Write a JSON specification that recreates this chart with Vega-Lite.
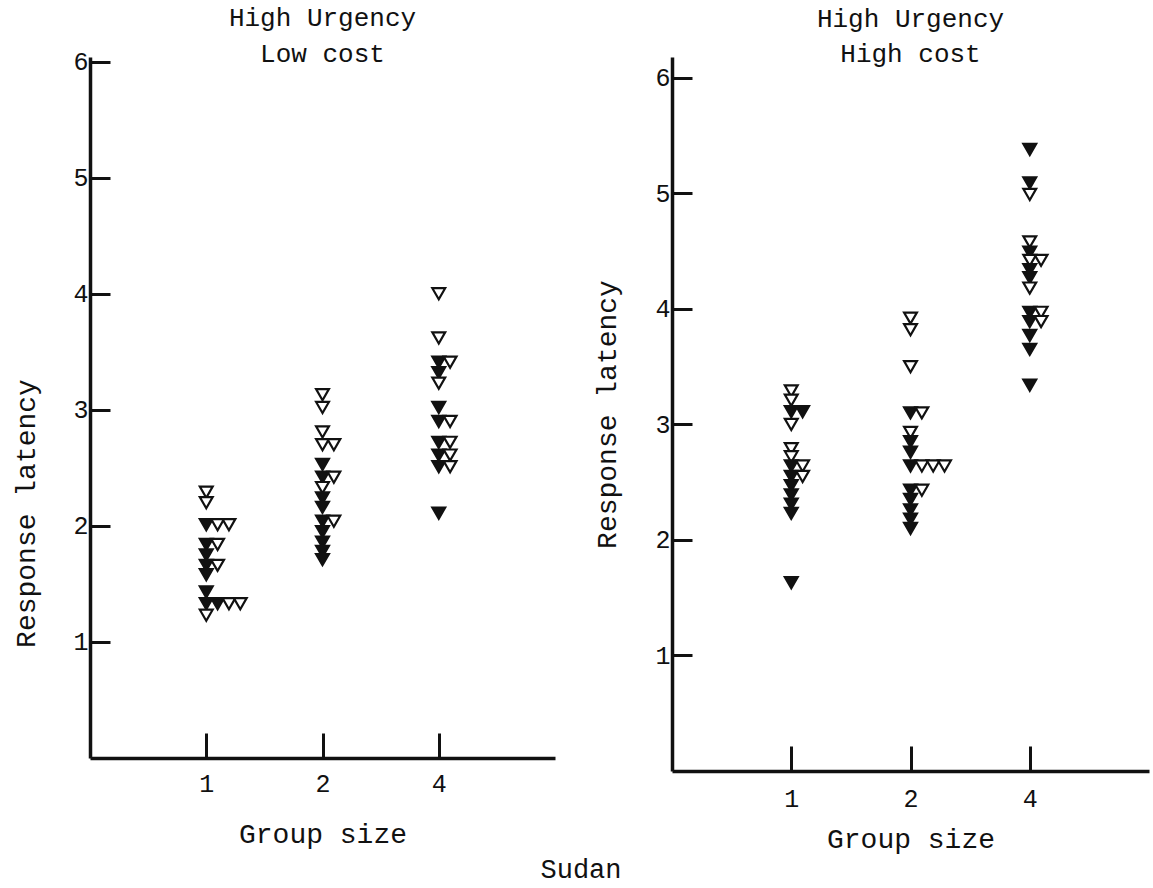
{
  "$schema": "https://vega.github.io/schema/vega-lite/v6.json",
  "padding": {"left": 12, "top": 4, "right": 2, "bottom": 2},
  "background": "white",
  "config": {
    "font": "Liberation Mono",
    "view": {"stroke": null},
    "axis": {
      "domainColor": "#111",
      "domainWidth": 3.5,
      "tickColor": "#111",
      "tickWidth": 3,
      "grid": false,
      "labelFont": "Liberation Mono",
      "labelFontSize": 25,
      "labelColor": "#111",
      "titleFont": "Liberation Mono",
      "titleFontSize": 28,
      "titleFontWeight": "normal",
      "titleColor": "#111"
    },
    "title": {"font": "Liberation Mono", "fontSize": 26, "fontWeight": "normal", "color": "#111"}
  },
  "title": {"text": "Sudan", "orient": "bottom", "anchor": "middle", "fontSize": 27, "offset": 4},
  "data": {
    "values": [
      {"panel": "Low cost", "size": "1", "latency": 2.29, "set": "B"},
      {"panel": "Low cost", "size": "1", "latency": 2.20, "set": "B"},
      {"panel": "Low cost", "size": "1", "latency": 2.01, "set": "A"},
      {"panel": "Low cost", "size": "1", "latency": 2.01, "set": "B"},
      {"panel": "Low cost", "size": "1", "latency": 2.01, "set": "B"},
      {"panel": "Low cost", "size": "1", "latency": 1.84, "set": "A"},
      {"panel": "Low cost", "size": "1", "latency": 1.84, "set": "B"},
      {"panel": "Low cost", "size": "1", "latency": 1.75, "set": "A"},
      {"panel": "Low cost", "size": "1", "latency": 1.66, "set": "A"},
      {"panel": "Low cost", "size": "1", "latency": 1.66, "set": "B"},
      {"panel": "Low cost", "size": "1", "latency": 1.58, "set": "A"},
      {"panel": "Low cost", "size": "1", "latency": 1.43, "set": "A"},
      {"panel": "Low cost", "size": "1", "latency": 1.33, "set": "A"},
      {"panel": "Low cost", "size": "1", "latency": 1.33, "set": "A"},
      {"panel": "Low cost", "size": "1", "latency": 1.33, "set": "B"},
      {"panel": "Low cost", "size": "1", "latency": 1.33, "set": "B"},
      {"panel": "Low cost", "size": "1", "latency": 1.23, "set": "B"},

      {"panel": "Low cost", "size": "2", "latency": 3.13, "set": "B"},
      {"panel": "Low cost", "size": "2", "latency": 3.02, "set": "B"},
      {"panel": "Low cost", "size": "2", "latency": 2.81, "set": "B"},
      {"panel": "Low cost", "size": "2", "latency": 2.70, "set": "B"},
      {"panel": "Low cost", "size": "2", "latency": 2.70, "set": "B"},
      {"panel": "Low cost", "size": "2", "latency": 2.53, "set": "A"},
      {"panel": "Low cost", "size": "2", "latency": 2.42, "set": "A"},
      {"panel": "Low cost", "size": "2", "latency": 2.42, "set": "B"},
      {"panel": "Low cost", "size": "2", "latency": 2.33, "set": "B"},
      {"panel": "Low cost", "size": "2", "latency": 2.24, "set": "A"},
      {"panel": "Low cost", "size": "2", "latency": 2.16, "set": "A"},
      {"panel": "Low cost", "size": "2", "latency": 2.04, "set": "A"},
      {"panel": "Low cost", "size": "2", "latency": 2.04, "set": "B"},
      {"panel": "Low cost", "size": "2", "latency": 1.95, "set": "A"},
      {"panel": "Low cost", "size": "2", "latency": 1.86, "set": "A"},
      {"panel": "Low cost", "size": "2", "latency": 1.78, "set": "A"},
      {"panel": "Low cost", "size": "2", "latency": 1.71, "set": "A"},

      {"panel": "Low cost", "size": "4", "latency": 4.00, "set": "B"},
      {"panel": "Low cost", "size": "4", "latency": 3.62, "set": "B"},
      {"panel": "Low cost", "size": "4", "latency": 3.41, "set": "A"},
      {"panel": "Low cost", "size": "4", "latency": 3.41, "set": "B"},
      {"panel": "Low cost", "size": "4", "latency": 3.32, "set": "A"},
      {"panel": "Low cost", "size": "4", "latency": 3.23, "set": "B"},
      {"panel": "Low cost", "size": "4", "latency": 3.02, "set": "A"},
      {"panel": "Low cost", "size": "4", "latency": 2.90, "set": "A"},
      {"panel": "Low cost", "size": "4", "latency": 2.90, "set": "B"},
      {"panel": "Low cost", "size": "4", "latency": 2.72, "set": "A"},
      {"panel": "Low cost", "size": "4", "latency": 2.72, "set": "B"},
      {"panel": "Low cost", "size": "4", "latency": 2.61, "set": "A"},
      {"panel": "Low cost", "size": "4", "latency": 2.61, "set": "B"},
      {"panel": "Low cost", "size": "4", "latency": 2.51, "set": "A"},
      {"panel": "Low cost", "size": "4", "latency": 2.51, "set": "B"},
      {"panel": "Low cost", "size": "4", "latency": 2.11, "set": "A"},

      {"panel": "High cost", "size": "1", "latency": 3.29, "set": "B"},
      {"panel": "High cost", "size": "1", "latency": 3.21, "set": "B"},
      {"panel": "High cost", "size": "1", "latency": 3.11, "set": "A"},
      {"panel": "High cost", "size": "1", "latency": 3.11, "set": "A"},
      {"panel": "High cost", "size": "1", "latency": 3.00, "set": "B"},
      {"panel": "High cost", "size": "1", "latency": 2.79, "set": "B"},
      {"panel": "High cost", "size": "1", "latency": 2.72, "set": "B"},
      {"panel": "High cost", "size": "1", "latency": 2.64, "set": "A"},
      {"panel": "High cost", "size": "1", "latency": 2.64, "set": "B"},
      {"panel": "High cost", "size": "1", "latency": 2.55, "set": "A"},
      {"panel": "High cost", "size": "1", "latency": 2.55, "set": "B"},
      {"panel": "High cost", "size": "1", "latency": 2.47, "set": "A"},
      {"panel": "High cost", "size": "1", "latency": 2.39, "set": "A"},
      {"panel": "High cost", "size": "1", "latency": 2.31, "set": "A"},
      {"panel": "High cost", "size": "1", "latency": 2.23, "set": "A"},
      {"panel": "High cost", "size": "1", "latency": 1.63, "set": "A"},

      {"panel": "High cost", "size": "2", "latency": 3.92, "set": "B"},
      {"panel": "High cost", "size": "2", "latency": 3.82, "set": "B"},
      {"panel": "High cost", "size": "2", "latency": 3.50, "set": "B"},
      {"panel": "High cost", "size": "2", "latency": 3.10, "set": "A"},
      {"panel": "High cost", "size": "2", "latency": 3.10, "set": "B"},
      {"panel": "High cost", "size": "2", "latency": 2.93, "set": "B"},
      {"panel": "High cost", "size": "2", "latency": 2.85, "set": "A"},
      {"panel": "High cost", "size": "2", "latency": 2.76, "set": "A"},
      {"panel": "High cost", "size": "2", "latency": 2.64, "set": "A"},
      {"panel": "High cost", "size": "2", "latency": 2.64, "set": "B"},
      {"panel": "High cost", "size": "2", "latency": 2.64, "set": "B"},
      {"panel": "High cost", "size": "2", "latency": 2.64, "set": "B"},
      {"panel": "High cost", "size": "2", "latency": 2.43, "set": "A"},
      {"panel": "High cost", "size": "2", "latency": 2.43, "set": "B"},
      {"panel": "High cost", "size": "2", "latency": 2.35, "set": "A"},
      {"panel": "High cost", "size": "2", "latency": 2.26, "set": "A"},
      {"panel": "High cost", "size": "2", "latency": 2.18, "set": "A"},
      {"panel": "High cost", "size": "2", "latency": 2.10, "set": "A"},

      {"panel": "High cost", "size": "4", "latency": 5.38, "set": "A"},
      {"panel": "High cost", "size": "4", "latency": 5.09, "set": "A"},
      {"panel": "High cost", "size": "4", "latency": 4.99, "set": "B"},
      {"panel": "High cost", "size": "4", "latency": 4.58, "set": "B"},
      {"panel": "High cost", "size": "4", "latency": 4.49, "set": "A"},
      {"panel": "High cost", "size": "4", "latency": 4.42, "set": "B"},
      {"panel": "High cost", "size": "4", "latency": 4.42, "set": "B"},
      {"panel": "High cost", "size": "4", "latency": 4.34, "set": "A"},
      {"panel": "High cost", "size": "4", "latency": 4.27, "set": "A"},
      {"panel": "High cost", "size": "4", "latency": 4.18, "set": "B"},
      {"panel": "High cost", "size": "4", "latency": 3.97, "set": "A"},
      {"panel": "High cost", "size": "4", "latency": 3.97, "set": "B"},
      {"panel": "High cost", "size": "4", "latency": 3.89, "set": "A"},
      {"panel": "High cost", "size": "4", "latency": 3.89, "set": "B"},
      {"panel": "High cost", "size": "4", "latency": 3.77, "set": "A"},
      {"panel": "High cost", "size": "4", "latency": 3.65, "set": "A"},
      {"panel": "High cost", "size": "4", "latency": 3.34, "set": "A"}
    ]
  },
  "transform": [
    {
      "window": [{"op": "row_number", "as": "rank"}],
      "groupby": ["panel", "size", "latency"],
      "sort": [{"field": "set", "order": "ascending"}]
    }
  ],
  "spacing": 38,
  "hconcat": [
    {
      "width": 465,
      "height": 701,
      "title": {"text": ["High Urgency", "Low cost"], "anchor": "middle", "lineHeight": 36, "frame": "group", "offset": -17},
      "transform": [{"filter": "datum.panel === 'Low cost'"}],
      "mark": {"type": "point", "shape": "triangle-down", "filled": true, "size": 165, "stroke": "#111", "strokeWidth": 2.2, "opacity": 1},
      "encoding": {
        "x": {
          "field": "size", "type": "ordinal", "sort": ["1", "2", "4"],
          "scale": {"type": "point", "padding": 1},
          "axis": {"title": "Group size", "labelAngle": 0, "tickSize": -25, "labelPadding": 38, "titlePadding": 24}
        },
        "xOffset": {"field": "rank", "type": "quantitative", "scale": {"domain": [1, 4], "range": [0, 34]}},
        "y": {
          "field": "latency", "type": "quantitative",
          "scale": {"domain": [0, 6.04], "nice": false},
          "axis": {"title": "Response latency", "values": [1, 2, 3, 4, 5, 6], "tickSize": -20, "labelPadding": 22, "titleY": 456, "titlePadding": 32}
        },
        "fill": {"field": "set", "type": "nominal", "scale": {"domain": ["A", "B"], "range": ["#111", "#ffffff"]}, "legend": null}
      }
    },
    {
      "width": 477,
      "height": 714,
      "title": {"text": ["High Urgency", "High cost"], "anchor": "middle", "lineHeight": 35, "frame": "group", "offset": -10},
      "transform": [{"filter": "datum.panel === 'High cost'"}],
      "mark": {"type": "point", "shape": "triangle-down", "filled": true, "size": 165, "stroke": "#111", "strokeWidth": 2.2, "opacity": 1},
      "encoding": {
        "x": {
          "field": "size", "type": "ordinal", "sort": ["1", "2", "4"],
          "scale": {"type": "point", "padding": 1},
          "axis": {"title": "Group size", "labelAngle": 0, "tickSize": -25, "labelPadding": 40, "titlePadding": 14}
        },
        "xOffset": {"field": "rank", "type": "quantitative", "scale": {"domain": [1, 4], "range": [0, 34]}},
        "y": {
          "field": "latency", "type": "quantitative",
          "scale": {"domain": [0, 6.18], "nice": false},
          "axis": {"title": "Response latency", "values": [1, 2, 3, 4, 5, 6], "tickSize": -20, "labelPadding": 22, "titlePadding": 33}
        },
        "fill": {"field": "set", "type": "nominal", "scale": {"domain": ["A", "B"], "range": ["#111", "#ffffff"]}, "legend": null}
      }
    }
  ]
}
